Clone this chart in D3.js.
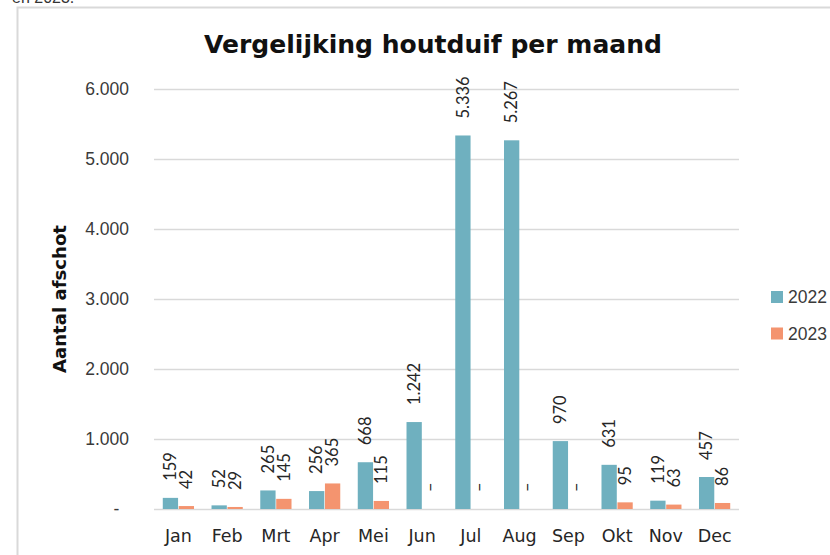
<!DOCTYPE html>
<html>
<head>
<meta charset="utf-8">
<script src="https://cdn.jsdelivr.net/npm/d3@7"></script>
<style>
  html, body { margin: 0; padding: 0; background: #fff; }
  svg { display: block; }
</style>
</head>
<body>
<div id="chart"></div>
<script>
// data
var months = ['Jan', 'Feb', 'Mrt', 'Apr', 'Mei', 'Jun', 'Jul', 'Aug', 'Sep', 'Okt', 'Nov', 'Dec'];
var years = ['2022', '2023'];
var values2022 = [159, 52, 265, 256, 668, 1242, 5336, 5267, 970, 631, 119, 457];
var values2023 = [42, 29, 145, 365, 115, 0, 0, 0, 0, 95, 63, 86];
var yTicks = [0, 1000, 2000, 3000, 4000, 5000, 6000];
var colors = ['#6fb0bf', '#f4946f'];

var width = 830, height = 555;
var margin = {left: 154, right: 91, top: 89, bottom: 46};

// Dutch number format: 1.242
var nl = d3.formatLocale({decimal: ',', thousands: '.', grouping: [3], currency: ['€', '']});
var fmt = function(v) { return v === 0 ? '–' : nl.format(',')(v); };

var rows = months.map(function(m, i) {
  return {month: m, vals: [values2022[i], values2023[i]]};
});

var svg = d3.select('#chart').append('svg')
    .attr('width', width)
    .attr('height', height);

// cropped text from the page above the chart
svg.append('text')
    .attr('x', 12).attr('y', 3)
    .attr('font-family', 'Liberation Sans, Arial, sans-serif')
    .attr('font-size', 16)
    .attr('fill', '#333')
    .text('en 2023.');

// chart frame
svg.append('rect')
    .attr('x', 17.5).attr('y', 7.5)
    .attr('width', 900).attr('height', 700)
    .attr('fill', 'none')
    .attr('stroke', '#d9d9d9')
    .attr('stroke-width', 2);

var x0 = d3.scaleBand()
    .domain(months)
    .range([margin.left, width - margin.right])
    .paddingInner(0.333)
    .paddingOuter(0.167);

var x1 = d3.scaleBand()
    .domain(years)
    .range([0, x0.bandwidth()])
    .padding(0.04);

var y = d3.scaleLinear()
    .domain([0, 6000])
    .range([height - margin.bottom, margin.top]);

// gridlines + y tick labels
var yAxis = d3.axisLeft(y)
    .tickValues(yTicks)
    .tickSize(-(width - margin.right - margin.left))
    .tickPadding(25)
    .tickFormat(function(d) { return d === 0 ? '-  ' : nl.format(',')(d); });

var gy = svg.append('g')
    .attr('transform', 'translate(' + margin.left + ',0)')
    .call(yAxis);
gy.select('.domain').remove();
gy.selectAll('.tick line')
    .attr('stroke', '#d9d9d9')
    .attr('stroke-width', 1.5);
gy.selectAll('.tick text')
    .attr('font-family', 'Liberation Sans, Arial, sans-serif')
    .attr('font-size', 17.5)
    .attr('fill', '#3a3a3a')
    .attr('xml:space', 'preserve')
    .style('white-space', 'pre');

// x axis labels
var gx = svg.append('g')
    .attr('transform', 'translate(0,' + (height - margin.bottom) + ')')
    .call(d3.axisBottom(x0).tickSize(0).tickPadding(21));
gx.select('.domain').remove();
gx.selectAll('.tick text')
    .attr('font-family', 'DejaVu Sans, sans-serif')
    .attr('font-size', 17.5)
    .attr('fill', '#262626');

// bars
var groups = svg.append('g').selectAll('g')
    .data(rows)
    .join('g')
    .attr('transform', function(d) { return 'translate(' + x0(d.month) + ',0)'; });

groups.selectAll('rect')
    .data(function(d) { return d.vals.map(function(v, j) { return {year: years[j], v: v, j: j}; }); })
    .join('rect')
    .attr('x', function(d) { return x1(d.year); })
    .attr('y', function(d) { return y(d.v); })
    .attr('width', x1.bandwidth())
    .attr('height', function(d) { return y(0) - y(d.v); })
    .attr('fill', function(d) { return colors[d.j]; });

// rotated value labels
groups.selectAll('text.val')
    .data(function(d) { return d.vals.map(function(v, j) { return {year: years[j], v: v, j: j}; }); })
    .join('text')
    .attr('class', 'val')
    .attr('transform', function(d) {
      var cx = x1(d.year) + x1.bandwidth() / 2;
      return 'translate(' + cx + ',' + (y(d.v) - 17) + ') rotate(-90)';
    })
    .attr('dy', '0.35em')
    .attr('text-anchor', 'start')
    .attr('font-family', 'Lato, Noto Sans, sans-serif')
    .attr('font-size', 16.5)
    .attr('fill', '#262626')
    .text(function(d) { return fmt(d.v); });

// title
svg.append('text')
    .attr('x', 433).attr('y', 53)
    .attr('text-anchor', 'middle')
    .attr('font-family', 'DejaVu Sans, sans-serif')
    .attr('font-weight', 'bold')
    .attr('font-size', 24)
    .attr('textLength', 458)
    .attr('lengthAdjust', 'spacingAndGlyphs')
    .attr('fill', '#111')
    .text('Vergelijking houtduif per maand');

// y axis title
svg.append('text')
    .attr('transform', 'translate(66,' + 299 + ') rotate(-90)')
    .attr('text-anchor', 'middle')
    .attr('font-family', 'DejaVu Sans, sans-serif')
    .attr('font-weight', 'bold')
    .attr('font-size', 17)
    .attr('textLength', 148)
    .attr('lengthAdjust', 'spacingAndGlyphs')
    .attr('fill', '#111')
    .text('Aantal afschot');

// legend
var legend = svg.append('g').selectAll('g')
    .data(years)
    .join('g')
    .attr('transform', function(d, i) { return 'translate(771,' + (291 + i * 36.5) + ')'; });
legend.append('rect')
    .attr('width', 12).attr('height', 12)
    .attr('fill', function(d, i) { return colors[i]; });
legend.append('text')
    .attr('x', 17).attr('y', 6)
    .attr('dy', '0.35em')
    .attr('font-family', 'Liberation Sans, Arial, sans-serif')
    .attr('font-size', 17.5)
    .attr('fill', '#3a3a3a')
    .text(function(d) { return d; });
</script>
</body>
</html>
